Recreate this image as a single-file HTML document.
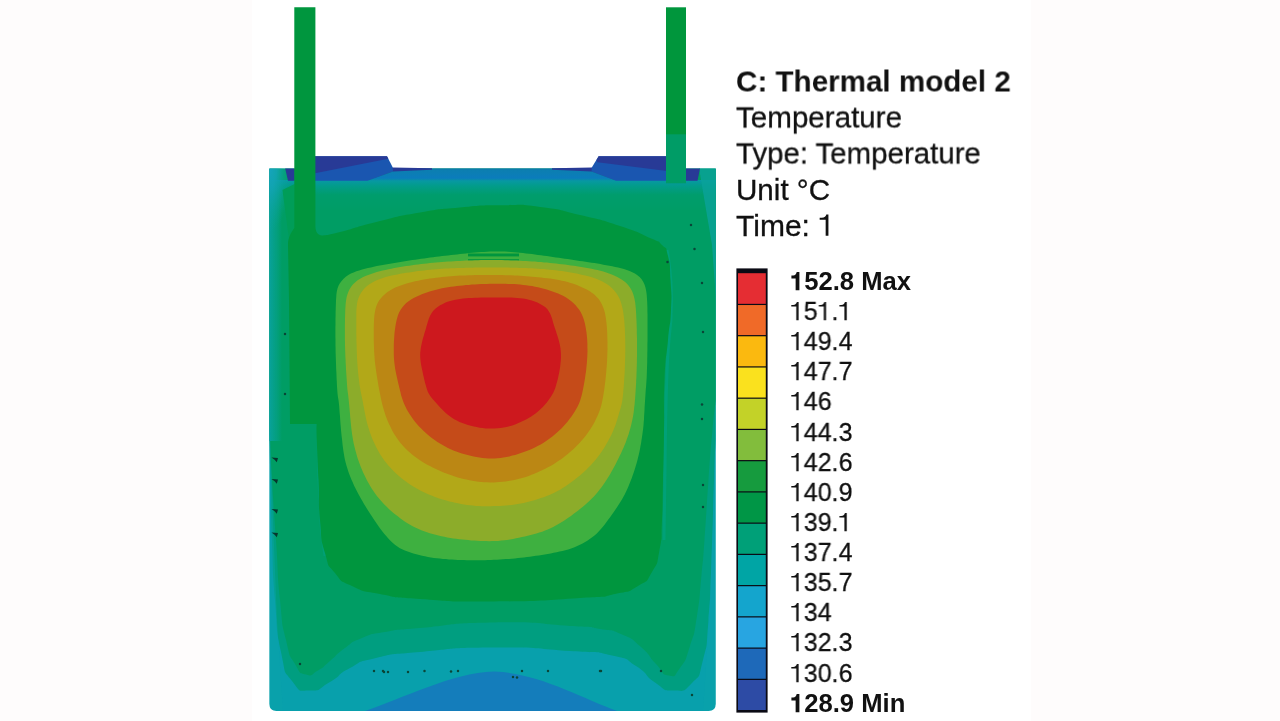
<!DOCTYPE html><html><head><meta charset="utf-8"><title>Thermal model</title><style>
html,body{margin:0;padding:0;background:#fefcfc;}
body{width:1280px;height:721px;position:relative;overflow:hidden;font-family:"Liberation Sans",sans-serif;color:#111;}
.t{position:absolute;left:736.4px;white-space:nowrap;font-size:29.6px;line-height:36px;height:36px;transform-origin:0 50%;}
.l{position:absolute;left:790.0px;white-space:nowrap;font-size:25.4px;line-height:30px;height:30px;transform-origin:0 50%;transform:scaleX(0.928);}
.l.b{transform:scaleX(1.009);left:789.6px}
b{font-weight:bold;-webkit-text-stroke:0}
.o{display:inline-block;width:0.556em;height:0.716em;font-style:normal}.o svg{display:block;width:100%;height:100%;overflow:visible}
.t,.l{-webkit-text-stroke:0.3px #111;will-change:transform;}
</style></head><body>
<div style="position:absolute;left:252px;top:0;width:779px;height:721px;background:#fff"></div>
<svg width="1280" height="721" viewBox="0 0 1280 721" style="position:absolute;left:0;top:0;filter:blur(0.5px)">
<defs>
<clipPath id="bc"><path d="M269.3 168.4 L715.8 168.4 L715.8 704.0 Q715.8 711.0 708.8 711.0 L276.3 711.0 Q269.3 711.0 269.3 704.0 Z"/></clipPath>
<linearGradient id="gTop" x1="0" y1="0" x2="0" y2="1"><stop offset="0" stop-color="#0898a6"/><stop offset="0.2" stop-color="#029c8a"/><stop offset="0.5" stop-color="#009d6c"/><stop offset="1" stop-color="#009d66"/></linearGradient>
<linearGradient id="gBand" x1="0" y1="0" x2="0" y2="1"><stop offset="0" stop-color="#0a6c9e"/><stop offset="0.15" stop-color="#0c7fb0"/><stop offset="0.8" stop-color="#0b7cbc"/><stop offset="1" stop-color="#0892a4"/></linearGradient>
<linearGradient id="gLeft" x1="0" y1="0" x2="1" y2="0"><stop offset="0" stop-color="#12a4b4"/><stop offset="1" stop-color="#12a4b4" stop-opacity="0"/></linearGradient>
<linearGradient id="gRight" x1="1" y1="0" x2="0" y2="0"><stop offset="0" stop-color="#0aa39a"/><stop offset="1" stop-color="#0aa39a" stop-opacity="0"/></linearGradient>
<radialGradient id="gTL" cx="0.5" cy="0.5" r="0.5"><stop offset="0" stop-color="#16a4c0"/><stop offset="0.35" stop-color="#12a4b4" stop-opacity="0.9"/><stop offset="1" stop-color="#0aa39a" stop-opacity="0"/></radialGradient>
<linearGradient id="gLs" x1="0" y1="0" x2="1" y2="0"><stop offset="0" stop-color="#0aa2a0" stop-opacity="0.95"/><stop offset="0.6" stop-color="#06a090" stop-opacity="0.6"/><stop offset="1" stop-color="#06a090" stop-opacity="0"/></linearGradient>
</defs>
<g clip-path="url(#bc)">
<path d="M269.3 168.4 L715.8 168.4 L715.8 704.0 Q715.8 711.0 708.8 711.0 L276.3 711.0 Q269.3 711.0 269.3 704.0 Z" fill="#08a0ac"/>
<path d="M269.30 168.40L715.80 168.40L715.80 440.00L715.80 440.00C715.20 453.33 715.43 440.00 714.00 480.00C712.57 520.00 713.33 513.33 711.50 560.00C709.67 606.67 711.33 586.67 708.50 620.00C705.67 653.33 708.50 639.00 703.00 660.00C697.50 681.00 702.00 672.83 692.00 683.00C682.00 693.17 685.33 690.67 673.00 690.50C660.67 690.33 667.33 690.67 655.00 682.50C642.67 674.33 650.33 675.00 636.00 666.00C621.67 657.00 634.00 660.50 612.00 655.50C590.00 650.50 609.33 653.67 570.00 651.00C530.67 648.33 544.00 647.17 494.00 647.50C444.00 647.83 459.33 648.50 420.00 652.00C380.67 655.50 399.33 652.67 376.00 658.00C352.67 663.33 365.33 660.00 350.00 668.00C334.67 676.00 343.33 674.50 330.00 682.00C316.67 689.50 322.67 690.83 310.00 690.50C297.33 690.17 301.67 693.83 292.00 681.00C282.33 668.17 286.67 679.00 281.00 652.00C275.33 625.00 278.00 637.33 275.00 600.00C272.00 562.67 273.50 580.00 272.00 540.00C270.50 500.00 271.40 513.33 270.50 480.00C269.60 446.67 269.70 453.33 269.30 440.00Z" fill="#009e80"/>
<path d="M269.30 168.40L715.80 168.40L715.80 400.00L715.80 400.00C714.70 410.00 714.93 403.33 712.50 430.00C710.07 456.67 711.17 443.33 708.50 480.00C705.83 516.67 706.83 508.33 704.50 540.00C702.17 571.67 704.00 549.67 701.50 575.00C699.00 600.33 700.83 592.33 697.00 616.00C693.17 639.67 695.67 628.67 690.00 646.00C684.33 663.33 687.17 658.17 680.00 668.00C672.83 677.83 676.50 676.83 668.50 675.50C660.50 674.17 665.17 673.50 656.00 664.00C646.83 654.50 652.33 656.83 641.00 647.00C629.67 637.17 635.67 640.50 622.00 634.50C608.33 628.50 617.33 631.83 600.00 629.00C582.67 626.17 605.33 628.17 570.00 626.00C534.67 623.83 544.00 621.83 494.00 622.50C444.00 623.17 456.33 624.83 420.00 628.00C383.67 631.17 404.33 628.67 385.00 632.00C365.67 635.33 375.33 632.67 362.00 638.00C348.67 643.33 355.67 640.33 345.00 648.00C334.33 655.67 339.00 653.50 330.00 661.00C321.00 668.50 326.00 666.00 318.00 670.50C310.00 675.00 313.67 676.67 306.00 674.50C298.33 672.33 301.67 675.50 295.00 664.00C288.33 652.50 291.00 661.33 286.00 640.00C281.00 618.67 283.33 633.33 280.00 600.00C276.67 566.67 278.67 580.00 276.00 540.00C273.33 500.00 274.23 516.67 272.00 480.00C269.77 443.33 270.20 446.67 269.30 430.00Z" fill="#009d64"/>
<rect x="269" y="180" width="448" height="30" fill="url(#gTop)"/>
<path d="M362 712C400 700 450 673 494 671.5C540 673 585 700 620 712Z" fill="#147dbb"/>
<rect x="269" y="181" width="13" height="260" fill="url(#gLs)"/>
<ellipse cx="269" cy="166" rx="22" ry="66" fill="url(#gTL)"/>
<path d="M282.5 190L294.6 184L294.6 232L289 238L288 232Z" fill="#009d58"/>
<path d="M699 168L716 168L716 300L712 245Z" fill="#0aa39a" opacity="0.8"/>
<path d="M269 400L269 712L283 712L277 620L273 520Z" fill="#0ca2aa" opacity="0.45"/>
<path d="M716 400L716 712L703 712L709 620L713 520Z" fill="#0ca2aa" opacity="0.45"/>
<path d="M667 250C672 275 673 310 669 340C666 370 665.5 420 665 470L664 540" fill="none" stroke="#00a488" stroke-width="3" opacity="0.55"/>
<path d="M318.5 426L319 480L321.5 530L325 556" fill="none" stroke="#00a488" stroke-width="3" opacity="0.5"/>
<path d="M393 168L591.5 168L591.5 171.5L616 180.6L367.5 180.6L393 171.5Z" fill="url(#gBand)"/>
</g>
<path d="M315 156.3L387 156.3L393.3 168.6L393.3 171.5L367.5 180.8L315 180.8Z" fill="#1a56b0"/>
<path d="M685 156.3L598.6 156.3L591.2 168.6L591.2 171.5L616 180.8L685 180.8Z" fill="#1a56b0"/>
<path d="M315 156.3L387 156.3L388.3 158.8L315 173.3Z" fill="#283a96"/>
<path d="M685 156.3L598.6 156.3L596.5 160L597.5 162.3L685 173.3Z" fill="#283a96"/>
<path d="M392.5 167.6L432 168.2L432 169.8L393 171.5Z" fill="#283a96"/>
<path d="M592 167.6L552 168.2L552 169.8L591.5 171.5Z" fill="#283a96"/>
<path d="M285.2 168.4L294.6 168.4L294.6 180.7L288 180.7Z" fill="#283a96"/>
<path d="M685.5 168.4L700 168.4L697.5 180.7L685.5 180.7Z" fill="#283a96"/>
<rect x="666" y="7.3" width="20" height="128" fill="#00963c"/>
<rect x="666" y="134.3" width="20" height="49" fill="#009c66"/>
<path d="M294.3 7.3L315.4 7.3L315.4 226C315.4 232 318 235.5 322 235.5C328.00 234.33 320.67 236.83 340.00 232.00C359.33 227.17 353.33 227.50 380.00 221.00C406.67 214.50 393.33 217.00 420.00 212.50C446.67 208.00 432.67 209.90 460.00 207.50C487.33 205.10 475.33 205.47 502.00 205.30C528.67 205.13 514.00 203.77 540.00 207.00C566.00 210.23 553.33 208.67 580.00 215.00C606.67 221.33 596.67 218.33 620.00 226.00C643.33 233.67 636.00 231.67 650.00 238.00C664.00 244.33 656.00 239.00 662.00 245.00C668.00 251.00 665.17 244.33 668.00 256.00C670.83 267.67 669.50 262.00 670.50 280.00C671.50 298.00 671.83 290.00 671.00 310.00C670.17 330.00 670.17 316.67 668.00 340.00C665.83 363.33 665.83 350.00 664.50 380.00C663.17 410.00 664.50 396.67 664.00 430.00C663.50 463.33 663.67 450.00 663.00 480.00C662.33 510.00 663.17 496.67 662.00 520.00C660.83 543.33 662.83 532.67 659.50 550.00C656.17 567.33 659.17 560.00 652.00 572.00C644.83 584.00 650.33 578.67 638.00 586.00C625.67 593.33 634.33 590.00 615.00 594.00C595.67 598.00 620.33 595.50 580.00 598.00C539.67 600.50 547.33 601.17 494.00 601.50C440.67 601.83 458.00 601.50 420.00 599.00C382.00 596.50 402.67 598.33 380.00 594.00C357.33 589.67 367.00 593.00 352.00 586.00C337.00 579.00 344.00 584.00 335.00 573.00C326.00 562.00 330.00 570.67 325.00 553.00C320.00 535.33 322.17 544.33 320.00 520.00C317.83 495.67 319.57 506.67 318.50 480.00C317.43 453.33 317.43 458.67 316.80 440.00C316.17 421.33 316.67 429.33 316.60 424.00L290 424L289 300L288 245C288 238 290 234 294.3 228Z" fill="#00963e"/>
<path d="M490.0 251.6L493.0 251.5L496.0 251.4L499.0 251.4L502.0 251.5L505.0 251.6L508.0 251.8L511.0 252.0L514.0 252.2L517.0 252.5L520.0 252.8L523.0 253.1L526.0 253.4L529.0 253.7L532.0 254.1L534.9 254.5L537.9 254.9L540.9 255.3L543.9 255.7L546.9 256.1L549.8 256.5L552.8 257.0L555.8 257.4L558.8 257.8L561.7 258.3L564.7 258.7L567.7 259.1L570.7 259.6L573.6 260.0L576.6 260.4L579.6 260.9L582.6 261.3L585.5 261.7L588.5 262.2L591.5 262.7L594.5 263.1L597.4 263.6L600.4 264.1L603.3 264.7L606.3 265.2L609.3 265.8L612.2 266.3L615.2 266.9L618.1 267.6L621.0 268.3L623.9 269.1L626.8 269.9L629.6 271.0L632.3 272.2L634.9 273.6L637.4 275.2L639.6 277.1L641.6 279.3L643.2 281.8L644.5 284.4L645.4 287.2L646.0 290.1L646.5 293.1L646.8 296.1L647.0 299.1L647.2 302.1L647.3 305.1L647.4 308.1L647.4 311.1L647.5 314.1L647.5 317.1L647.5 320.1L647.5 323.1L647.5 326.1L647.5 329.1L647.5 332.1L647.5 335.1L647.5 338.1L647.5 341.1L647.4 344.1L647.4 347.2L647.4 350.2L647.3 353.2L647.3 356.2L647.2 359.2L647.2 362.2L647.1 365.2L647.0 368.2L646.9 371.2L646.8 374.2L646.7 377.2L646.5 380.2L646.3 383.2L646.1 386.2L645.8 389.2L645.6 392.2L645.4 395.2L645.2 398.2L645.0 401.2L644.8 404.2L644.6 407.2L644.5 410.2L644.3 413.2L644.1 416.2L644.0 419.2L643.7 422.2L643.5 425.2L643.2 428.2L642.8 431.2L642.4 434.2L642.0 437.1L641.5 440.1L641.1 443.1L640.5 446.0L640.0 449.0L639.4 451.9L638.7 454.9L638.0 457.8L637.3 460.7L636.5 463.6L635.6 466.5L634.7 469.4L633.8 472.2L632.8 475.1L631.8 477.9L630.7 480.7L629.6 483.5L628.5 486.3L627.3 489.0L626.0 491.7L624.7 494.4L623.3 497.1L621.8 499.7L620.2 502.3L618.6 504.8L617.0 507.3L615.3 509.8L613.6 512.3L611.8 514.7L610.1 517.2L608.3 519.6L606.5 522.0L604.7 524.4L602.9 526.8L600.9 529.1L598.9 531.3L596.8 533.4L594.5 535.4L592.2 537.2L589.7 539.0L587.3 540.7L584.7 542.3L582.1 543.7L579.4 545.1L576.7 546.3L573.9 547.5L571.1 548.5L568.2 549.4L565.3 550.2L562.4 551.0L559.5 551.6L556.6 552.3L553.6 552.8L550.7 553.4L547.7 553.9L544.7 554.4L541.8 554.9L538.8 555.4L535.8 555.8L532.8 556.2L529.9 556.7L526.9 557.1L523.9 557.4L520.9 557.8L517.9 558.1L514.9 558.4L511.9 558.7L508.9 558.9L505.9 559.1L502.9 559.3L499.9 559.5L496.9 559.7L493.9 559.8L490.9 559.9L487.9 560.1L484.9 560.2L481.9 560.2L478.9 560.3L475.9 560.3L472.9 560.3L469.9 560.3L466.9 560.2L463.9 560.1L460.9 560.0L457.9 559.9L454.9 559.7L451.9 559.6L448.9 559.4L445.9 559.1L442.9 558.9L439.9 558.6L436.9 558.3L433.9 557.9L430.9 557.4L428.0 556.9L425.0 556.3L422.1 555.7L419.2 555.0L416.3 554.3L413.4 553.5L410.5 552.6L407.7 551.6L404.9 550.5L402.1 549.3L399.5 547.9L397.0 546.3L394.6 544.5L392.3 542.6L390.2 540.5L388.1 538.3L386.2 536.0L384.2 533.7L382.4 531.4L380.5 529.0L378.7 526.6L377.0 524.1L375.3 521.6L373.6 519.1L372.0 516.6L370.3 514.1L368.7 511.6L367.1 509.0L365.6 506.4L364.0 503.9L362.5 501.3L361.0 498.7L359.5 496.1L358.1 493.4L356.7 490.8L355.3 488.1L354.0 485.4L352.8 482.6L351.6 479.9L350.4 477.1L349.3 474.3L348.3 471.5L347.4 468.6L346.5 465.7L345.7 462.8L345.0 459.9L344.4 457.0L343.9 454.0L343.4 451.1L343.0 448.1L342.6 445.1L342.3 442.1L342.0 439.1L341.6 436.1L341.3 433.1L341.0 430.1L340.8 427.2L340.5 424.2L340.3 421.2L340.1 418.2L339.9 415.2L339.6 412.2L339.4 409.2L339.2 406.2L338.9 403.4L338.6 400.8L338.2 398.4L337.8 395.9L337.5 393.3L337.3 390.5L337.1 387.5L336.9 384.6L336.8 381.5L336.6 378.5L336.5 375.5L336.4 372.5L336.2 369.5L336.1 366.5L336.0 363.5L335.9 360.5L335.8 357.5L335.7 354.5L335.6 351.5L335.6 348.5L335.5 345.5L335.5 342.5L335.5 339.5L335.4 336.5L335.4 333.5L335.4 330.5L335.4 327.4L335.5 324.4L335.5 321.4L335.5 318.4L335.6 315.4L335.6 312.4L335.7 309.4L335.8 306.4L335.9 303.4L336.0 300.4L336.2 297.4L336.4 294.4L336.8 291.5L337.5 288.6L338.5 285.8L339.9 283.3L341.6 280.9L343.6 278.7L345.8 276.8L348.3 275.1L350.9 273.6L353.6 272.4L356.4 271.3L359.2 270.4L362.1 269.5L365.0 268.7L367.9 268.0L370.9 267.4L373.8 266.7L376.8 266.1L379.7 265.6L382.7 265.0L385.6 264.5L388.6 264.0L391.5 263.4L394.5 263.0L397.5 262.5L400.4 262.0L403.4 261.5L406.4 261.0L409.4 260.6L412.3 260.1L415.3 259.7L418.3 259.2L421.2 258.8L424.2 258.4L427.2 257.9L430.2 257.5L433.2 257.2L436.1 256.8L439.1 256.4L442.1 256.1L445.1 255.7L448.1 255.4L451.1 255.0L454.1 254.7L457.1 254.4L460.0 254.0L463.0 253.7L466.0 253.4L469.0 253.1L472.0 252.8L475.0 252.5L478.0 252.3L481.0 252.1L484.0 251.9L487.0 251.7Z" fill="#3eb040"/>
<rect x="468" y="253.5" width="51" height="2.9" fill="#00963e"/>
<rect x="468" y="259" width="51" height="1.8" fill="#00963e" opacity="0.8"/>
<path d="M490.0 260.0L493.0 260.0L496.0 260.1L499.0 260.1L502.0 260.1L505.0 260.2L508.0 260.3L511.0 260.4L514.0 260.5L517.0 260.6L520.0 260.8L523.0 260.9L526.0 261.1L529.0 261.3L532.0 261.4L535.0 261.6L538.0 261.9L541.0 262.1L544.0 262.4L547.0 262.6L550.0 262.9L553.0 263.2L556.0 263.6L559.0 263.9L561.9 264.2L564.9 264.6L567.9 265.0L570.9 265.4L573.9 265.8L576.8 266.2L579.8 266.7L582.8 267.2L585.7 267.7L588.7 268.2L591.6 268.8L594.6 269.4L597.5 270.1L600.4 270.8L603.3 271.6L606.2 272.5L609.0 273.5L611.8 274.6L614.6 275.7L617.3 277.0L619.9 278.4L622.4 280.0L624.8 281.8L627.0 283.8L628.9 286.0L630.6 288.5L632.0 291.1L633.1 293.8L634.0 296.7L634.6 299.6L635.2 302.5L635.5 305.5L635.8 308.5L636.0 311.5L636.2 314.5L636.3 317.5L636.5 320.5L636.6 323.5L636.7 326.5L636.8 329.5L636.8 332.5L636.9 335.5L637.0 338.5L637.0 341.5L637.0 344.5L637.0 347.5L637.0 350.5L637.0 353.5L637.0 356.5L636.9 359.5L636.9 362.5L636.8 365.5L636.7 368.5L636.6 371.5L636.5 374.5L636.4 377.5L636.2 380.5L636.1 383.5L635.9 386.5L635.7 389.5L635.5 392.5L635.3 395.5L635.1 398.5L634.8 401.5L634.6 404.5L634.2 407.5L633.9 410.5L633.5 413.5L633.0 416.4L632.4 419.4L631.8 422.3L631.1 425.2L630.4 428.1L629.5 431.0L628.7 433.9L627.7 436.8L626.7 439.6L625.7 442.4L624.5 445.2L623.4 447.9L622.1 450.7L620.9 453.4L619.6 456.1L618.3 458.8L616.9 461.5L615.6 464.2L614.2 466.8L612.7 469.5L611.3 472.1L609.8 474.7L608.2 477.3L606.6 479.8L605.0 482.3L603.3 484.8L601.5 487.3L599.7 489.6L597.8 492.0L595.9 494.3L593.9 496.5L591.8 498.6L589.6 500.7L587.4 502.8L585.2 504.8L582.9 506.7L580.6 508.6L578.2 510.5L575.8 512.3L573.4 514.1L571.0 515.9L568.6 517.6L566.1 519.3L563.6 521.0L561.0 522.6L558.5 524.1L555.8 525.6L553.2 527.0L550.5 528.3L547.8 529.5L545.0 530.6L542.2 531.7L539.3 532.6L536.4 533.5L533.5 534.3L530.6 535.0L527.7 535.7L524.8 536.4L521.9 537.1L518.9 537.7L516.0 538.3L513.0 538.9L510.1 539.4L507.1 539.9L504.1 540.3L501.2 540.6L498.2 540.9L495.2 541.1L492.2 541.1L489.2 541.2L486.2 541.1L483.2 541.1L480.2 540.9L477.2 540.8L474.2 540.6L471.2 540.4L468.2 540.1L465.2 539.8L462.2 539.5L459.2 539.2L456.2 538.8L453.2 538.4L450.3 537.9L447.3 537.4L444.4 536.8L441.4 536.2L438.5 535.5L435.6 534.8L432.7 534.0L429.8 533.2L427.0 532.2L424.1 531.2L421.3 530.2L418.6 529.0L415.8 527.8L413.1 526.4L410.5 525.0L407.9 523.5L405.4 521.9L402.9 520.2L400.5 518.4L398.1 516.6L395.7 514.8L393.4 512.9L391.1 510.9L388.9 508.9L386.7 506.8L384.6 504.7L382.5 502.6L380.5 500.3L378.6 498.0L376.7 495.7L374.9 493.3L373.2 490.8L371.5 488.3L370.0 485.7L368.5 483.1L367.0 480.5L365.7 477.8L364.4 475.1L363.1 472.4L361.9 469.6L360.8 466.9L359.7 464.1L358.7 461.2L357.7 458.4L356.8 455.5L356.0 452.6L355.2 449.7L354.5 446.8L353.8 443.9L353.2 441.0L352.7 438.0L352.2 435.0L351.8 432.1L351.4 429.1L351.1 426.1L350.8 423.1L350.5 420.1L350.2 417.1L350.0 414.1L349.7 411.1L349.5 408.2L349.2 405.2L348.9 402.2L348.6 399.2L348.3 396.2L347.9 393.2L347.5 390.2L347.2 387.2L347.0 384.3L346.8 381.3L346.6 378.3L346.4 375.3L346.2 372.3L346.0 369.3L345.9 366.3L345.7 363.3L345.6 360.3L345.4 357.3L345.3 354.3L345.2 351.3L345.1 348.3L345.0 345.3L345.0 342.2L344.9 339.2L344.9 336.2L344.9 333.2L344.9 330.2L344.9 327.2L344.9 324.2L345.0 321.2L345.0 318.2L345.1 315.2L345.2 312.2L345.3 309.2L345.5 306.2L345.7 303.2L346.1 300.2L346.6 297.3L347.4 294.4L348.4 291.7L349.7 289.0L351.3 286.5L353.1 284.2L355.3 282.2L357.6 280.3L360.1 278.7L362.7 277.3L365.4 276.0L368.2 274.9L371.0 273.9L373.9 272.9L376.8 272.1L379.7 271.3L382.6 270.6L385.5 269.9L388.4 269.3L391.4 268.7L394.3 268.1L397.3 267.6L400.2 267.1L403.2 266.6L406.2 266.1L409.1 265.7L412.1 265.2L415.1 264.8L418.1 264.4L421.1 264.1L424.0 263.7L427.0 263.4L430.0 263.1L433.0 262.8L436.0 262.5L439.0 262.3L442.0 262.1L445.0 261.8L448.0 261.6L451.0 261.4L454.0 261.2L457.0 261.1L460.0 260.9L463.0 260.7L466.0 260.6L469.0 260.5L472.0 260.4L475.0 260.3L478.0 260.2L481.0 260.1L484.0 260.1L487.0 260.0Z" fill="#8cac2a"/>
<path d="M490.0 267.5L493.0 267.5L496.0 267.5L499.0 267.5L502.0 267.6L505.0 267.6L508.0 267.6L511.0 267.7L514.0 267.7L517.0 267.8L520.0 267.9L523.0 267.9L526.0 268.0L529.0 268.2L532.0 268.3L535.0 268.5L538.0 268.7L541.0 268.9L544.0 269.1L547.0 269.4L549.9 269.7L552.9 270.0L555.9 270.3L558.9 270.7L561.9 271.1L564.8 271.6L567.8 272.0L570.7 272.5L573.7 273.1L576.6 273.6L579.6 274.2L582.5 274.9L585.4 275.6L588.3 276.3L591.2 277.1L594.1 278.1L596.9 279.1L599.7 280.2L602.4 281.4L605.0 282.9L607.5 284.5L609.9 286.3L612.1 288.2L614.2 290.4L616.0 292.7L617.7 295.2L619.1 297.8L620.3 300.5L621.2 303.3L622.0 306.2L622.7 309.1L623.2 312.1L623.6 315.1L624.0 318.0L624.3 321.0L624.5 324.0L624.7 327.0L624.9 330.0L625.0 333.0L625.1 336.0L625.2 339.0L625.2 342.0L625.3 345.0L625.3 348.0L625.3 351.0L625.2 354.0L625.2 357.0L625.1 360.0L625.0 363.0L624.9 366.0L624.8 369.0L624.7 372.0L624.5 375.0L624.3 378.0L624.1 381.0L623.9 384.0L623.7 387.0L623.4 389.9L623.2 392.9L622.9 395.9L622.5 398.9L622.1 401.8L621.5 404.8L620.7 407.7L619.9 410.5L619.0 413.4L618.2 416.3L617.3 419.2L616.4 422.0L615.5 424.9L614.4 427.7L613.3 430.4L612.1 433.2L610.8 435.9L609.4 438.5L608.0 441.2L606.5 443.8L605.0 446.4L603.4 448.9L601.7 451.4L600.0 453.9L598.3 456.3L596.4 458.7L594.5 461.0L592.5 463.3L590.5 465.5L588.4 467.6L586.3 469.7L584.1 471.8L581.9 473.8L579.6 475.7L577.3 477.6L574.9 479.5L572.5 481.3L570.1 483.1L567.7 484.8L565.2 486.5L562.7 488.1L560.1 489.7L557.5 491.1L554.8 492.5L552.1 493.8L549.4 495.0L546.6 496.1L543.8 497.2L540.9 498.1L538.1 499.1L535.2 499.9L532.3 500.8L529.4 501.5L526.5 502.2L523.6 502.9L520.7 503.5L517.7 504.1L514.8 504.5L511.8 504.9L508.8 505.3L505.8 505.5L502.8 505.7L499.8 505.9L496.8 506.0L493.8 506.1L490.8 506.2L487.8 506.2L484.8 506.3L481.8 506.2L478.8 506.1L475.8 505.9L472.9 505.6L469.9 505.3L466.9 504.9L464.0 504.4L461.0 503.9L458.0 503.3L455.1 502.7L452.2 502.1L449.3 501.4L446.4 500.6L443.5 499.8L440.6 498.9L437.8 497.9L435.0 496.9L432.2 495.8L429.4 494.7L426.6 493.5L423.9 492.3L421.2 491.0L418.5 489.6L415.9 488.1L413.3 486.6L410.8 485.0L408.3 483.3L405.9 481.6L403.5 479.8L401.2 477.9L398.9 475.9L396.6 473.9L394.5 471.9L392.3 469.8L390.3 467.6L388.3 465.4L386.4 463.1L384.5 460.7L382.8 458.3L381.1 455.8L379.5 453.2L378.0 450.6L376.6 448.0L375.3 445.3L374.0 442.6L372.8 439.9L371.6 437.1L370.6 434.3L369.6 431.4L368.7 428.6L367.8 425.7L367.0 422.8L366.3 419.9L365.7 417.0L365.1 414.0L364.5 411.1L364.0 408.1L363.4 405.2L362.9 402.2L362.3 399.3L361.7 396.4L361.1 393.4L360.5 390.5L360.0 387.5L359.5 384.6L359.1 381.6L358.8 378.6L358.4 375.6L358.1 372.6L357.9 369.7L357.6 366.7L357.4 363.7L357.2 360.7L357.0 357.7L356.9 354.7L356.8 351.7L356.7 348.7L356.6 345.7L356.5 342.7L356.4 339.7L356.4 336.7L356.3 333.7L356.3 330.7L356.3 327.7L356.3 324.7L356.3 321.7L356.3 318.7L356.3 315.7L356.3 312.7L356.4 309.7L356.7 306.7L357.0 303.8L357.6 300.8L358.5 298.0L359.7 295.3L361.1 292.7L362.9 290.3L364.8 288.1L367.0 286.1L369.4 284.3L371.9 282.7L374.5 281.3L377.2 280.0L380.0 278.9L382.8 277.9L385.7 277.1L388.6 276.3L391.5 275.6L394.4 274.9L397.4 274.4L400.3 273.8L403.3 273.3L406.2 272.8L409.2 272.4L412.2 271.9L415.2 271.5L418.1 271.1L421.1 270.8L424.1 270.4L427.1 270.1L430.1 269.8L433.0 269.5L436.0 269.3L439.0 269.0L442.0 268.8L445.0 268.6L448.0 268.5L451.0 268.3L454.0 268.2L457.0 268.1L460.0 268.0L463.0 267.9L466.0 267.8L469.0 267.7L472.0 267.7L475.0 267.6L478.0 267.6L481.0 267.5L484.0 267.5L487.0 267.5Z" fill="#b2a818"/>
<path d="M490.0 275.0L493.0 275.0L496.0 275.0L499.0 275.1L502.0 275.1L505.0 275.2L508.0 275.2L511.1 275.3L514.1 275.5L517.1 275.6L520.1 275.8L523.1 275.9L526.1 276.2L529.1 276.4L532.1 276.7L535.1 276.9L538.0 277.2L541.0 277.5L544.0 277.9L547.0 278.2L550.0 278.6L553.0 279.1L555.9 279.5L558.9 280.1L561.8 280.7L564.8 281.3L567.7 282.1L570.6 282.9L573.4 283.8L576.3 284.8L579.0 286.0L581.8 287.2L584.5 288.4L587.2 289.8L589.8 291.3L592.2 293.0L594.6 294.8L596.7 296.9L598.7 299.1L600.3 301.6L601.8 304.2L603.0 306.9L604.0 309.7L604.8 312.6L605.4 315.5L605.9 318.5L606.3 321.5L606.6 324.5L606.9 327.5L607.1 330.5L607.2 333.5L607.3 336.5L607.4 339.5L607.5 342.5L607.5 345.5L607.5 348.5L607.4 351.5L607.3 354.5L607.2 357.5L607.1 360.5L606.9 363.5L606.7 366.5L606.4 369.5L606.2 372.5L605.9 375.5L605.6 378.5L605.3 381.5L604.9 384.5L604.5 387.5L604.1 390.4L603.6 393.4L603.1 396.4L602.6 399.3L602.0 402.3L601.3 405.2L600.5 408.1L599.5 410.9L598.4 413.7L597.2 416.4L595.9 419.2L594.6 421.9L593.2 424.5L591.7 427.1L590.1 429.6L588.4 432.1L586.6 434.5L584.7 436.9L582.8 439.2L580.8 441.5L578.8 443.7L576.7 445.8L574.6 447.9L572.4 450.0L570.1 452.0L567.8 453.9L565.5 455.8L563.1 457.7L560.7 459.4L558.2 461.1L555.7 462.8L553.1 464.4L550.5 465.9L547.9 467.3L545.2 468.7L542.5 470.0L539.8 471.3L537.1 472.5L534.3 473.7L531.5 474.8L528.7 475.9L525.8 476.9L523.0 477.8L520.1 478.6L517.2 479.3L514.3 480.0L511.3 480.6L508.3 481.1L505.4 481.5L502.4 481.8L499.4 482.1L496.4 482.3L493.4 482.4L490.4 482.4L487.4 482.3L484.4 482.2L481.4 482.0L478.4 481.7L475.4 481.3L472.4 480.8L469.5 480.2L466.5 479.6L463.6 478.9L460.7 478.2L457.8 477.4L454.9 476.5L452.1 475.6L449.2 474.6L446.4 473.5L443.6 472.4L440.8 471.3L438.1 470.1L435.4 468.8L432.7 467.5L430.0 466.1L427.3 464.7L424.7 463.2L422.2 461.7L419.6 460.0L417.1 458.3L414.7 456.6L412.4 454.7L410.1 452.8L407.8 450.8L405.7 448.7L403.6 446.5L401.6 444.2L399.7 441.9L397.9 439.5L396.2 437.1L394.5 434.6L393.0 432.0L391.6 429.3L390.3 426.6L389.0 423.9L387.8 421.2L386.7 418.4L385.6 415.6L384.7 412.7L383.8 409.8L383.0 406.9L382.2 404.0L381.5 401.1L380.9 398.2L380.3 395.2L379.7 392.3L379.1 389.3L378.6 386.4L378.1 383.4L377.6 380.4L377.1 377.5L376.6 374.5L376.2 371.5L375.8 368.5L375.4 365.6L375.0 362.6L374.7 359.6L374.5 356.6L374.3 353.6L374.1 350.6L374.0 347.6L373.9 344.6L373.8 341.6L373.8 338.6L373.8 335.5L373.8 332.5L373.8 329.5L373.8 326.5L373.9 323.5L374.0 320.5L374.2 317.5L374.5 314.5L375.0 311.6L375.6 308.7L376.5 305.8L377.7 303.1L379.1 300.6L380.9 298.2L382.9 296.0L385.1 294.0L387.5 292.1L389.9 290.5L392.5 289.0L395.2 287.6L398.0 286.5L400.8 285.4L403.6 284.4L406.5 283.5L409.4 282.7L412.3 282.0L415.2 281.3L418.2 280.7L421.1 280.1L424.1 279.6L427.0 279.1L430.0 278.6L433.0 278.2L436.0 277.8L439.0 277.4L441.9 277.1L444.9 276.8L447.9 276.5L450.9 276.2L453.9 276.0L456.9 275.8L459.9 275.6L462.9 275.5L465.9 275.4L468.9 275.3L472.0 275.2L475.0 275.1L478.0 275.1L481.0 275.1L484.0 275.0L487.0 275.0Z" fill="#bb8714"/>
<path d="M490.0 283.8L493.0 283.7L496.0 283.7L499.0 283.7L502.1 283.7L505.1 283.8L508.1 283.9L511.1 284.0L514.1 284.1L517.1 284.3L520.1 284.6L523.1 284.9L526.1 285.2L529.1 285.7L532.1 286.1L535.0 286.7L538.0 287.3L540.9 288.0L543.8 288.7L546.7 289.5L549.6 290.4L552.5 291.4L555.3 292.4L558.1 293.5L560.8 294.7L563.5 296.1L566.1 297.6L568.6 299.3L571.0 301.1L573.3 303.0L575.4 305.1L577.4 307.4L579.2 309.8L580.8 312.3L582.1 315.0L583.2 317.7L584.1 320.6L584.9 323.5L585.5 326.4L586.0 329.4L586.5 332.4L586.8 335.4L587.1 338.4L587.3 341.4L587.4 344.4L587.4 347.4L587.5 350.4L587.4 353.4L587.3 356.5L587.1 359.5L586.9 362.5L586.6 365.5L586.3 368.5L586.0 371.5L585.5 374.4L585.1 377.4L584.6 380.4L584.1 383.4L583.6 386.3L583.0 389.3L582.4 392.2L581.7 395.2L580.9 398.1L580.0 400.9L578.9 403.7L577.6 406.4L576.2 409.1L574.6 411.7L573.0 414.2L571.3 416.7L569.5 419.1L567.7 421.5L565.7 423.8L563.7 426.0L561.7 428.2L559.5 430.3L557.3 432.3L555.0 434.3L552.7 436.2L550.3 438.1L547.9 439.8L545.4 441.6L542.8 443.2L540.2 444.7L537.6 446.1L534.9 447.5L532.2 448.8L529.4 450.0L526.6 451.1L523.8 452.1L520.9 453.1L518.1 454.0L515.2 454.9L512.3 455.6L509.3 456.4L506.4 457.0L503.4 457.5L500.5 458.0L497.5 458.3L494.5 458.5L491.5 458.6L488.5 458.5L485.5 458.3L482.5 458.0L479.5 457.6L476.5 457.1L473.6 456.5L470.6 455.8L467.7 455.1L464.8 454.3L461.9 453.5L459.0 452.5L456.2 451.5L453.4 450.4L450.6 449.2L447.9 447.9L445.2 446.5L442.6 445.1L440.0 443.6L437.4 442.0L435.0 440.3L432.5 438.5L430.2 436.7L427.8 434.7L425.6 432.7L423.4 430.7L421.2 428.6L419.1 426.4L417.1 424.2L415.2 421.9L413.3 419.5L411.6 417.1L409.9 414.6L408.3 412.0L406.8 409.4L405.5 406.7L404.2 404.0L403.1 401.2L402.1 398.3L401.2 395.5L400.5 392.5L399.8 389.6L399.1 386.7L398.4 383.7L397.7 380.8L397.1 377.9L396.4 374.9L395.8 372.0L395.2 369.0L394.8 366.0L394.4 363.0L394.1 360.0L393.9 357.0L393.8 354.0L393.8 351.0L393.8 348.0L393.8 345.0L393.9 342.0L394.1 339.0L394.3 336.0L394.5 333.0L394.9 330.0L395.3 327.0L395.8 324.0L396.4 321.1L397.1 318.2L398.0 315.3L399.1 312.5L400.5 309.9L402.2 307.4L404.1 305.2L406.2 303.1L408.6 301.3L411.1 299.6L413.7 298.1L416.3 296.7L419.1 295.4L421.8 294.3L424.6 293.2L427.5 292.2L430.4 291.3L433.2 290.4L436.2 289.7L439.1 289.0L442.0 288.3L445.0 287.8L448.0 287.3L451.0 286.8L453.9 286.4L456.9 286.1L459.9 285.7L462.9 285.4L465.9 285.1L468.9 284.9L471.9 284.6L474.9 284.4L478.0 284.2L481.0 284.1L484.0 284.0L487.0 283.9Z" fill="#c54b19"/>
<path d="M490.0 297.5L493.0 297.5L496.0 297.4L499.0 297.4L502.0 297.4L505.0 297.4L508.0 297.5L511.1 297.5L514.1 297.7L517.1 297.9L520.0 298.2L523.0 298.5L526.0 299.1L528.9 299.8L531.8 300.6L534.6 301.5L537.4 302.6L540.1 303.9L542.7 305.4L545.1 307.1L547.2 309.1L548.9 311.4L550.3 314.0L551.4 316.8L552.3 319.6L553.1 322.5L554.0 325.4L554.9 328.2L555.9 331.1L556.8 334.0L557.7 336.8L558.6 339.7L559.3 342.6L560.0 345.5L560.5 348.5L560.8 351.5L561.0 354.5L561.0 357.5L560.8 360.5L560.5 363.4L560.2 366.4L559.7 369.4L559.2 372.4L558.6 375.3L558.0 378.2L557.2 381.2L556.4 384.1L555.6 386.9L554.6 389.7L553.4 392.5L552.0 395.1L550.4 397.6L548.6 400.1L546.8 402.4L544.8 404.7L542.8 406.9L540.7 409.0L538.5 411.1L536.2 412.9L533.7 414.7L531.2 416.4L528.7 417.9L526.1 419.4L523.4 420.8L520.7 422.1L517.9 423.3L515.1 424.4L512.3 425.4L509.4 426.2L506.5 426.9L503.6 427.5L500.6 427.9L497.6 428.2L494.6 428.5L491.6 428.6L488.6 428.6L485.6 428.4L482.6 428.1L479.7 427.7L476.7 427.1L473.8 426.5L470.9 425.7L468.0 424.9L465.1 424.0L462.3 423.0L459.5 421.9L456.8 420.6L454.2 419.2L451.6 417.6L449.2 415.8L446.9 413.9L444.7 411.9L442.5 409.8L440.4 407.7L438.4 405.5L436.4 403.2L434.4 401.0L432.4 398.8L430.6 396.5L429.0 394.1L427.7 391.4L426.7 388.6L425.9 385.8L425.1 382.9L424.4 379.9L423.7 377.0L423.0 374.1L422.4 371.1L421.8 368.2L421.2 365.2L420.7 362.3L420.4 359.3L420.2 356.3L420.2 353.3L420.5 350.4L420.9 347.4L421.5 344.4L422.2 341.5L422.9 338.6L423.8 335.7L424.6 332.8L425.5 330.0L426.3 327.1L427.1 324.2L428.0 321.3L428.9 318.5L430.1 315.7L431.5 313.2L433.3 310.8L435.3 308.7L437.6 306.9L440.1 305.3L442.8 303.9L445.5 302.6L448.3 301.6L451.2 300.7L454.1 300.0L457.0 299.4L460.0 298.9L463.0 298.5L466.0 298.3L469.0 298.1L472.0 297.9L475.0 297.8L478.0 297.7L481.0 297.6L484.0 297.6L487.0 297.5Z" fill="#cd181e"/>
<circle cx="702.0" cy="404.5" r="1.25" fill="#0a4638"/>
<circle cx="702.0" cy="419.0" r="1.25" fill="#0a4638"/>
<circle cx="667.5" cy="262.0" r="1.25" fill="#0a4638"/>
<circle cx="691.0" cy="225.0" r="1.25" fill="#0a4638"/>
<circle cx="694.5" cy="249.0" r="1.25" fill="#0a4638"/>
<circle cx="702.0" cy="283.0" r="1.25" fill="#0a4638"/>
<circle cx="703.0" cy="332.0" r="1.25" fill="#0a4638"/>
<circle cx="374.0" cy="671.0" r="1.25" fill="#0a4638"/>
<circle cx="384.0" cy="672.0" r="1.25" fill="#0a4638"/>
<circle cx="383.0" cy="671.0" r="1.25" fill="#0a4638"/>
<circle cx="388.0" cy="672.0" r="1.25" fill="#0a4638"/>
<circle cx="408.0" cy="672.0" r="1.25" fill="#0a4638"/>
<circle cx="424.5" cy="671.0" r="1.25" fill="#0a4638"/>
<circle cx="451.0" cy="671.5" r="1.25" fill="#0a4638"/>
<circle cx="458.0" cy="671.0" r="1.25" fill="#0a4638"/>
<circle cx="522.0" cy="671.0" r="1.25" fill="#0a4638"/>
<circle cx="513.0" cy="677.0" r="1.25" fill="#0a4638"/>
<circle cx="517.0" cy="677.5" r="1.25" fill="#0a4638"/>
<circle cx="548.0" cy="671.0" r="1.25" fill="#0a4638"/>
<circle cx="601.0" cy="671.0" r="1.25" fill="#0a4638"/>
<circle cx="300.0" cy="664.0" r="1.25" fill="#0a4638"/>
<circle cx="661.0" cy="671.0" r="1.25" fill="#0a4638"/>
<circle cx="600.0" cy="671.0" r="1.25" fill="#0a4638"/>
<circle cx="692.0" cy="695.0" r="1.25" fill="#0a4638"/>
<circle cx="285.0" cy="334.0" r="1.25" fill="#0a4638"/>
<circle cx="285.0" cy="394.0" r="1.25" fill="#0a4638"/>
<circle cx="703.0" cy="485.0" r="1.25" fill="#0a4638"/>
<circle cx="703.0" cy="507.0" r="1.25" fill="#0a4638"/>
<path d="M271.5 457.5l6.5 0.6l-1.2 4.2l-2.2 -2.6z" fill="#08362e"/>
<path d="M271.5 479.0l6.5 0.6l-1.2 4.2l-2.2 -2.6z" fill="#08362e"/>
<path d="M271.5 509.0l6.5 0.6l-1.2 4.2l-2.2 -2.6z" fill="#08362e"/>
<path d="M271.5 532.5l6.5 0.6l-1.2 4.2l-2.2 -2.6z" fill="#08362e"/>
<rect x="736.4" y="268.4" width="31.2" height="444.2" fill="#0a0a14"/>
<rect x="738.0" y="273.20" width="27.8" height="30.64" fill="#e52d33"/>
<rect x="738.0" y="305.04" width="27.8" height="30.04" fill="#f06a28"/>
<rect x="738.0" y="336.29" width="27.8" height="30.04" fill="#fbb90f"/>
<rect x="738.0" y="367.53" width="27.8" height="30.04" fill="#fae11e"/>
<rect x="738.0" y="398.77" width="27.8" height="30.04" fill="#c3d228"/>
<rect x="738.0" y="430.01" width="27.8" height="30.04" fill="#82bd3c"/>
<rect x="738.0" y="461.26" width="27.8" height="30.04" fill="#169b3e"/>
<rect x="738.0" y="492.50" width="27.8" height="30.04" fill="#009646"/>
<rect x="738.0" y="523.74" width="27.8" height="30.04" fill="#00a078"/>
<rect x="738.0" y="554.99" width="27.8" height="30.04" fill="#00a5a5"/>
<rect x="738.0" y="586.23" width="27.8" height="30.04" fill="#14a5cd"/>
<rect x="738.0" y="617.47" width="27.8" height="30.04" fill="#28a5e1"/>
<rect x="738.0" y="648.71" width="27.8" height="30.04" fill="#1e69b9"/>
<rect x="738.0" y="679.96" width="27.8" height="30.04" fill="#2d4ba5"/>
</svg>
<div class="t" id="T0" style="top:64.0px;transform:translateY(-0.5px) scaleX(0.987)"><b style="font-size:30px">C: Thermal model 2</b></div>
<div class="t" id="T1" style="top:100.3px;transform:translateY(-0.5px) scaleX(0.999)">Temperature</div>
<div class="t" id="T2" style="top:136.4px;transform:translateY(-0.5px) scaleX(0.994)">Type: Temperature</div>
<div class="t" id="T3" style="top:172.4px;transform:translateY(-0.5px) scaleX(1.0)">Unit °C</div>
<div class="t" id="T4" style="top:208.4px;transform:translateY(-0.5px) scaleX(1.014)">Time: <i class="o"><svg viewBox="0 0 556 716" preserveAspectRatio="none"><path d="M343 716L343 0L272 0C262 60 215 112 120 114L51 114L51 181L251 181L251 716Z" fill="#111"/></svg></i></div>
<div class="l b" id="L0" style="top:266.4px"><b><i class="o"><svg viewBox="0 0 556 716" preserveAspectRatio="none"><path d="M367 716L367 0L262 0C250 75 200 136 125 138L55 138L55 256L220 256L220 716Z" fill="#111"/></svg></i>52.8 Max</b></div>
<div class="l" id="L1" style="top:295.9px;transform:scaleX(0.983)"><i class="o"><svg viewBox="0 0 556 716" preserveAspectRatio="none"><path d="M343 716L343 0L272 0C262 60 215 112 120 114L51 114L51 181L251 181L251 716Z" fill="#111"/></svg></i>5<i class="o"><svg viewBox="0 0 556 716" preserveAspectRatio="none"><path d="M343 716L343 0L272 0C262 60 215 112 120 114L51 114L51 181L251 181L251 716Z" fill="#111"/></svg></i>.<i class="o"><svg viewBox="0 0 556 716" preserveAspectRatio="none"><path d="M343 716L343 0L272 0C262 60 215 112 120 114L51 114L51 181L251 181L251 716Z" fill="#111"/></svg></i></div>
<div class="l" id="L2" style="top:326.1px;transform:scaleX(0.983)"><i class="o"><svg viewBox="0 0 556 716" preserveAspectRatio="none"><path d="M343 716L343 0L272 0C262 60 215 112 120 114L51 114L51 181L251 181L251 716Z" fill="#111"/></svg></i>49.4</div>
<div class="l" id="L3" style="top:356.2px;transform:scaleX(0.983)"><i class="o"><svg viewBox="0 0 556 716" preserveAspectRatio="none"><path d="M343 716L343 0L272 0C262 60 215 112 120 114L51 114L51 181L251 181L251 716Z" fill="#111"/></svg></i>47.7</div>
<div class="l" id="L4" style="top:386.3px;transform:scaleX(0.983)"><i class="o"><svg viewBox="0 0 556 716" preserveAspectRatio="none"><path d="M343 716L343 0L272 0C262 60 215 112 120 114L51 114L51 181L251 181L251 716Z" fill="#111"/></svg></i>46</div>
<div class="l" id="L5" style="top:416.5px;transform:scaleX(0.983)"><i class="o"><svg viewBox="0 0 556 716" preserveAspectRatio="none"><path d="M343 716L343 0L272 0C262 60 215 112 120 114L51 114L51 181L251 181L251 716Z" fill="#111"/></svg></i>44.3</div>
<div class="l" id="L6" style="top:446.6px;transform:scaleX(0.983)"><i class="o"><svg viewBox="0 0 556 716" preserveAspectRatio="none"><path d="M343 716L343 0L272 0C262 60 215 112 120 114L51 114L51 181L251 181L251 716Z" fill="#111"/></svg></i>42.6</div>
<div class="l" id="L7" style="top:476.7px;transform:scaleX(0.983)"><i class="o"><svg viewBox="0 0 556 716" preserveAspectRatio="none"><path d="M343 716L343 0L272 0C262 60 215 112 120 114L51 114L51 181L251 181L251 716Z" fill="#111"/></svg></i>40.9</div>
<div class="l" id="L8" style="top:506.8px;transform:scaleX(0.983)"><i class="o"><svg viewBox="0 0 556 716" preserveAspectRatio="none"><path d="M343 716L343 0L272 0C262 60 215 112 120 114L51 114L51 181L251 181L251 716Z" fill="#111"/></svg></i>39.<i class="o"><svg viewBox="0 0 556 716" preserveAspectRatio="none"><path d="M343 716L343 0L272 0C262 60 215 112 120 114L51 114L51 181L251 181L251 716Z" fill="#111"/></svg></i></div>
<div class="l" id="L9" style="top:537.0px;transform:scaleX(0.983)"><i class="o"><svg viewBox="0 0 556 716" preserveAspectRatio="none"><path d="M343 716L343 0L272 0C262 60 215 112 120 114L51 114L51 181L251 181L251 716Z" fill="#111"/></svg></i>37.4</div>
<div class="l" id="L10" style="top:567.1px;transform:scaleX(0.983)"><i class="o"><svg viewBox="0 0 556 716" preserveAspectRatio="none"><path d="M343 716L343 0L272 0C262 60 215 112 120 114L51 114L51 181L251 181L251 716Z" fill="#111"/></svg></i>35.7</div>
<div class="l" id="L11" style="top:597.2px;transform:scaleX(0.983)"><i class="o"><svg viewBox="0 0 556 716" preserveAspectRatio="none"><path d="M343 716L343 0L272 0C262 60 215 112 120 114L51 114L51 181L251 181L251 716Z" fill="#111"/></svg></i>34</div>
<div class="l" id="L12" style="top:627.4px;transform:scaleX(0.983)"><i class="o"><svg viewBox="0 0 556 716" preserveAspectRatio="none"><path d="M343 716L343 0L272 0C262 60 215 112 120 114L51 114L51 181L251 181L251 716Z" fill="#111"/></svg></i>32.3</div>
<div class="l" id="L13" style="top:657.5px;transform:scaleX(0.983)"><i class="o"><svg viewBox="0 0 556 716" preserveAspectRatio="none"><path d="M343 716L343 0L272 0C262 60 215 112 120 114L51 114L51 181L251 181L251 716Z" fill="#111"/></svg></i>30.6</div>
<div class="l b" id="L14" style="top:688.2px"><b><i class="o"><svg viewBox="0 0 556 716" preserveAspectRatio="none"><path d="M367 716L367 0L262 0C250 75 200 136 125 138L55 138L55 256L220 256L220 716Z" fill="#111"/></svg></i>28.9 Min</b></div>
</body></html>
